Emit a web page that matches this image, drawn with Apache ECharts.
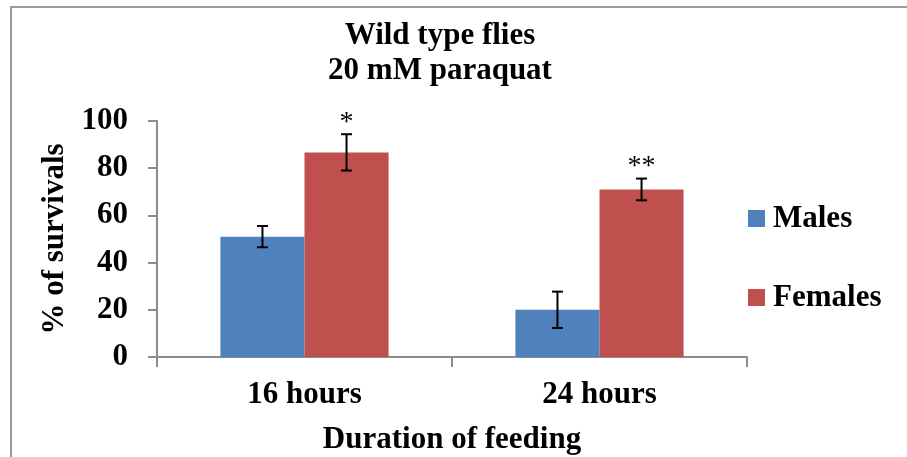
<!DOCTYPE html>
<html>
<head>
<meta charset="utf-8">
<script src="https://cdn.jsdelivr.net/npm/echarts@6/dist/echarts.min.js"></script>
<style>
  html, body { margin: 0; padding: 0; background: #fff; }
  #chart { width: 907px; height: 457px; }
</style>
</head>
<body>
<div id="chart"></div>
<script>
// Survival of wild type flies on 20 mM paraquat, by feeding duration
const categories = ['16 hours', '24 hours'];
const males = [51, 20];
const malesErr = [4.5, 7.7];
const females = [86.7, 71];
const femalesErr = [7.7, 4.6];
const femaleSig = ['*', '**'];
const yTicks = [0, 20, 40, 60, 80, 100];

const FONT = '"Liberation Serif", "Times New Roman", serif';
const FS = 31;
const BAR_W = 0.285; // fraction of a category band per bar

const chart = echarts.init(document.getElementById('chart'));

// Error bars (and significance marks) placed over a bar of the given side
function errorSeries(name, values, errs, side, marks) {
  return {
    type: 'custom',
    name: name + ' error',
    z: 10,
    silent: true,
    data: values.map((v, i) => [i, v, errs[i]]),
    renderItem: function (params, api) {
      const i = api.value(0), v = api.value(1), e = api.value(2);
      const band = api.size([1, 0])[0];
      const dx = side * band * BAR_W / 2;
      const top = api.coord([i, v + e]);
      const bot = api.coord([i, v - e]);
      const x = top[0] + dx;
      const cap = 5.5;
      const style = { stroke: '#000', lineWidth: 2 };
      const children = [
        { type: 'line', shape: { x1: x, y1: top[1], x2: x, y2: bot[1] }, style },
        { type: 'line', shape: { x1: x - cap, y1: top[1], x2: x + cap, y2: top[1] }, style },
        { type: 'line', shape: { x1: x - cap, y1: bot[1], x2: x + cap, y2: bot[1] }, style }
      ];
      const mark = marks ? marks[params.dataIndex] : '';
      if (mark) {
        children.push({
          type: 'text',
          style: {
            x: x, y: top[1] + 2, text: mark,
            textAlign: 'center', textVerticalAlign: 'bottom',
            font: '28px ' + FONT, fill: '#000'
          }
        });
      }
      return { type: 'group', children };
    }
  };
}

const boldText = { fontFamily: FONT, fontWeight: 'bold', fontSize: FS, color: '#000' };

chart.setOption({
  animation: false,
  title: {
    text: 'Wild type flies\n20 mM paraquat',
    left: 440, top: 18, padding: 0, textAlign: 'center',
    textStyle: Object.assign({ lineHeight: 35 }, boldText)
  },
  legend: {
    orient: 'vertical',
    left: 748, top: 203, padding: 0,
    itemWidth: 17, itemHeight: 17, itemGap: 48,
    data: ['Males', 'Females'],
    textStyle: Object.assign({ padding: [0, 0, 0, 3] }, boldText),
    icon: 'rect'
  },
  grid: {
    left: 157, top: 121, width: 590, height: 236,
    containLabel: false, outerBoundsMode: 'none'
  },
  xAxis: {
    type: 'category',
    data: categories,
    name: 'Duration of feeding',
    nameLocation: 'middle',
    nameGap: 67,
    nameTextStyle: boldText,
    axisLine: { lineStyle: { color: '#8c8c8c', width: 2 } },
    axisTick: { show: true, length: 10, alignWithLabel: false, lineStyle: { color: '#8c8c8c', width: 2 } },
    axisLabel: Object.assign({ margin: 22 }, boldText)
  },
  yAxis: {
    type: 'value',
    min: yTicks[0], max: yTicks[yTicks.length - 1], interval: 20,
    name: '% of survivals',
    nameLocation: 'middle',
    nameGap: 84,
    nameTextStyle: boldText,
    axisLine: { show: true, lineStyle: { color: '#8c8c8c', width: 2 } },
    axisTick: { show: true, length: 9, lineStyle: { color: '#8c8c8c', width: 2 } },
    splitLine: { show: false },
    axisLabel: Object.assign({ margin: 29 }, boldText)
  },
  series: [
    {
      type: 'bar', name: 'Males', data: males,
      barWidth: (BAR_W * 100) + '%', barGap: '0%',
      itemStyle: { color: '#4f81bd' }
    },
    {
      type: 'bar', name: 'Females', data: females,
      barWidth: (BAR_W * 100) + '%', barGap: '0%',
      itemStyle: { color: '#c0504d' }
    },
    errorSeries('Males', males, malesErr, -1, null),
    errorSeries('Females', females, femalesErr, 1, femaleSig)
  ],
  graphic: [{
    type: 'rect',
    shape: { x: 11, y: 7, width: 920, height: 480 },
    style: { fill: 'none', stroke: '#9a9a9a', lineWidth: 2 },
    silent: true, z: -1
  }]
});
</script>
</body>
</html>
